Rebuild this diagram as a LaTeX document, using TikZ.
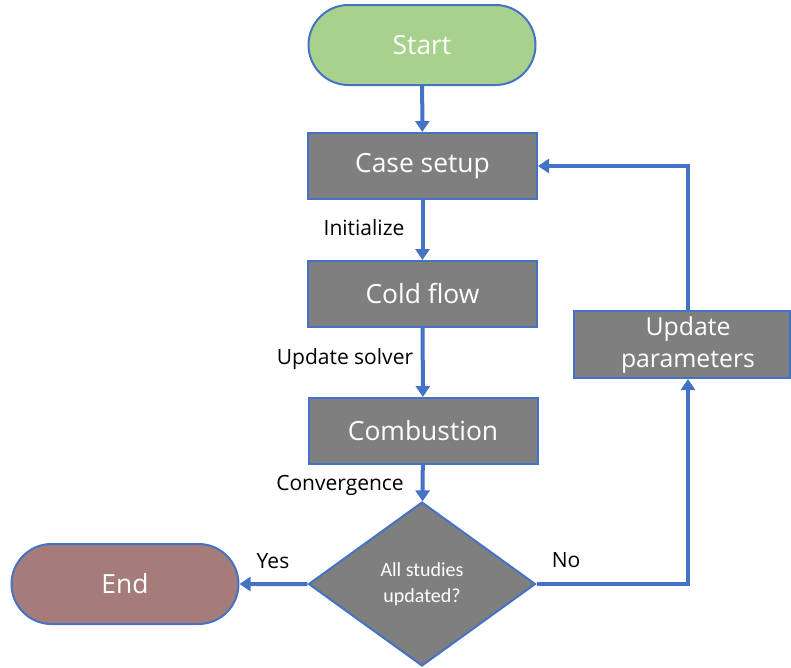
\documentclass[tikz,border=0pt]{standalone}
\usepackage{fontspec}
\setmainfont{Open Sans}
\newfontfamily\narrowfont{Carlito}
\usetikzlibrary{shapes.geometric,shapes.misc,arrows.meta}
\definecolor{edgeblue}{HTML}{4472C4}
\definecolor{boxgray}{HTML}{7F7F7F}
\definecolor{startgreen}{HTML}{A9D18E}
\definecolor{endbrown}{HTML}{A67C7B}
\tikzset{
  every node/.style={font=\fontsize{26.4}{31}\selectfont},
  termnode/.style={rounded rectangle, draw=edgeblue, line width=2pt, minimum width=227pt, minimum height=80pt, text=white, inner sep=0pt},
  procnode/.style={rectangle, draw=edgeblue, line width=2pt, fill=boxgray, text=white, minimum width=229pt, minimum height=66pt, inner sep=0pt},
  decnode/.style={diamond, draw=edgeblue, line width=2pt, fill=boxgray, text=white, minimum width=227pt, minimum height=164pt, inner sep=0pt, aspect=1.38, font=\narrowfont\fontsize{20}{26}\selectfont, align=center},
  flow/.style={draw=edgeblue, line width=4pt, -{Triangle[width=14pt,length=11pt]}},
  steplabel/.style={font=\fontsize{21}{25}\selectfont, text=black},
}
\begin{document}
\begin{tikzpicture}[x=1pt,y=-1pt]
\useasboundingbox (0,0) rectangle (791,667);
\node[termnode, fill=startgreen] (start) at (422,45) {Start};
\node[procnode] (setup) at (422.5,166) {Case setup};
\node[procnode] (cold) at (422.5,294) {Cold flow};
\node[procnode] (comb) at (423,431) {Combustion};
\node[decnode] (dec) at (422,584) {All studies\\updated?};
\node[termnode, fill=endbrown] (end) at (125,584) {End};
\node[procnode, minimum width=216pt, minimum height=67pt, font=\fontsize{24.8}{33}\selectfont] (upd) at (682,344.5)
  {\raisebox{-3pt}{\begin{tabular}{@{\hspace*{12pt}}c@{}}Update\\[-0.9pt]parameters\end{tabular}}};
\coordinate (cornerlow) at (688,584);
\coordinate (cornerhigh) at (688,166);

\draw[flow] (start) -- (setup);
\draw[flow] (setup) -- (cold);
\draw[flow] (cold) -- (comb);
\draw[flow] (comb) -- (dec);
\draw[flow] (dec) -- (end);
\draw[flow] (dec.east) -- (cornerlow) -- (upd.south -| cornerlow);
\draw[flow] (upd.north -| cornerhigh) -- (cornerhigh) -- (setup.east);

\node[steplabel] (l1) at (364,228) {Initialize};
\node[steplabel] (l2) at (345,359) {Update solver};
\node[steplabel] (l3) at (340,485) {Convergence};
\node[steplabel] (l4) at (273,561) {Yes};
\node[steplabel] (l5) at (566,560) {No};
\end{tikzpicture}
\end{document}
